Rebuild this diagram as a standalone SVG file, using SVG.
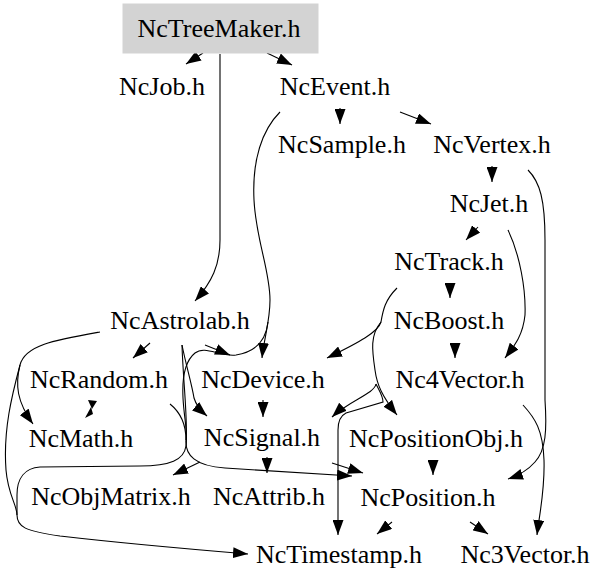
<svg xmlns="http://www.w3.org/2000/svg" width="611" height="587" viewBox="0 0 611 587">
<style>
text{font-family:"Liberation Serif","Times New Roman",serif;font-size:26px;fill:#000;text-anchor:middle}
.e{fill:none;stroke:#000;stroke-width:1.1;marker-end:url(#ah)}
.n{fill:none;stroke:#000;stroke-width:1.1}
</style>
<defs>
<marker id="ah" viewBox="0 0 15 11" refX="15" refY="5.5" markerWidth="15" markerHeight="11" markerUnits="userSpaceOnUse" orient="auto">
<path d="M0,0 L15,5.5 L0,11 z" fill="#000"/>
</marker>
</defs>
<rect width="611" height="587" fill="#fff"/>
<g id="edges">
<path class="e" d="M203,53 L186,64"/>
<path class="e" d="M267,53 L292,65"/>
<path class="e" d="M220,54 L220,240 C220,265 212,282 195,301"/>
<path class="e" d="M340,108 L340,124"/>
<path class="e" d="M400,112 L431,124"/>
<path class="e" d="M280,112 C262,130 252,160 254,200 C256,240 270,270 270,300 C270,322 264,338 262,358"/>
<path class="e" d="M268,322 C266,340 256,352 236,355 C220,357 205,345 195,353 C185,361 182,378 183,398 C184,418 188,432 186,446 C184,460 170,466 140,466 L40,467 C25,468 17,478 17,495 L17,515 C17,527 25,531 60,536 C120,543 200,550 248,554"/>
<path class="n" d="M100,332 C55,340 25,345 20,365 C12,395 3,430 6,470 C8,495 17,505 17,515"/>
<path class="e" d="M20,365 C15,385 17,402 33,424"/>
<path class="e" d="M150,343 L133,358"/>
<path class="e" d="M205,345 L230,355"/>
<path class="e" d="M182,345 C186,365 192,385 194,398 C196,405 200,410 207,416"/>
<path class="e" d="M182,345 C183,380 188,420 186,440 C185,455 195,466 225,468 L352,476"/>
<path class="n" d="M170,404 C180,412 186,425 186,440"/>
<path class="e" d="M200,462 L173,475"/>
<path class="e" d="M267,457 L267,473"/>
<path class="e" d="M332,463 L363,473"/>
<path class="e" d="M263,400 L263,417"/>
<path class="e" d="M397,288 C385,300 383,310 381,322 C378,332 360,342 327,358"/>
<path class="e" d="M381,322 C370,335 372,350 375,370 C377,385 382,396 397,415"/>
<path class="e" d="M376,384 C374,394 350,400 332,417"/>
<path class="e" d="M376,384 C380,392 383,396 383,402 L346,413 C340,416 338,422 338,430 L338,535"/>
<path class="e" d="M450,284 L450,298"/>
<path class="e" d="M455,344 L455,358"/>
<path class="e" d="M478,227 L466,240"/>
<path class="e" d="M492,166 L492,182"/>
<path class="e" d="M508,230 C520,255 526,290 525,315 C523,335 515,345 505,358"/>
<path class="e" d="M528,170 C540,182 545,200 545,240 L545,400 C547,430 546,450 535,462 C528,470 520,475 508,479"/>
<path class="e" d="M523,405 C535,418 543,430 544,460 C545,490 540,510 537,535"/>
<path class="e" d="M433,460 L433,475"/>
<path class="e" d="M392,522 L377,534"/>
<path class="e" d="M470,522 L488,534"/>
<polygon points="88,400 97,401 92,409" fill="#000"/>
<polygon points="91,407 93,414 85,418" fill="#000"/>
</g>
<g id="node-NcTreeMaker"><rect x="123" y="4" width="195" height="49" fill="#d3d3d3" stroke="#d3d3d3"/><text x="219" y="37">NcTreeMaker.h</text></g>
<g id="node-NcJob"><text x="162" y="95">NcJob.h</text></g>
<g id="node-NcEvent"><text x="335" y="95">NcEvent.h</text></g>
<g id="node-NcSample"><text x="342" y="153">NcSample.h</text></g>
<g id="node-NcVertex"><text x="492" y="153">NcVertex.h</text></g>
<g id="node-NcJet"><text x="489" y="212">NcJet.h</text></g>
<g id="node-NcTrack"><text x="449" y="270">NcTrack.h</text></g>
<g id="node-NcAstrolab"><text x="180" y="329">NcAstrolab.h</text></g>
<g id="node-NcBoost"><text x="449" y="329">NcBoost.h</text></g>
<g id="node-NcRandom"><text x="99" y="388">NcRandom.h</text></g>
<g id="node-NcDevice"><text x="263" y="388">NcDevice.h</text></g>
<g id="node-Nc4Vector"><text x="460" y="388">Nc4Vector.h</text></g>
<g id="node-NcMath"><text x="81" y="447">NcMath.h</text></g>
<g id="node-NcSignal"><text x="262" y="446">NcSignal.h</text></g>
<g id="node-NcPositionObj"><text x="436" y="447">NcPositionObj.h</text></g>
<g id="node-NcObjMatrix"><text x="111" y="505">NcObjMatrix.h</text></g>
<g id="node-NcAttrib"><text x="269" y="505">NcAttrib.h</text></g>
<g id="node-NcPosition"><text x="428" y="506">NcPosition.h</text></g>
<g id="node-NcTimestamp"><text x="339" y="563">NcTimestamp.h</text></g>
<g id="node-Nc3Vector"><text x="525" y="563">Nc3Vector.h</text></g>
</svg>
